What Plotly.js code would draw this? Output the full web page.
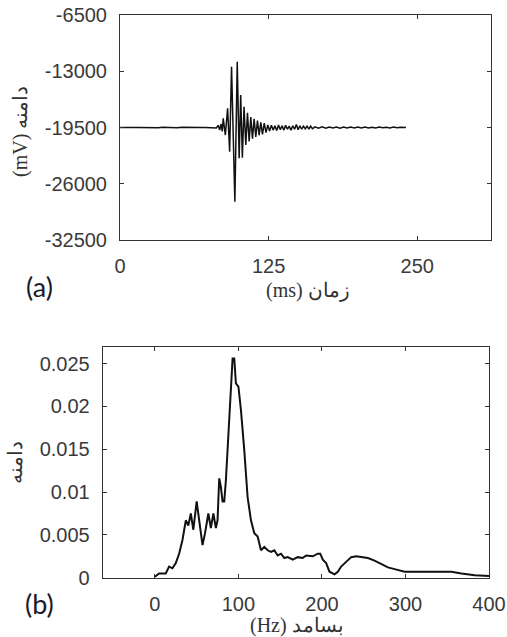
<!DOCTYPE html>
<html>
<head>
<meta charset="utf-8">
<script src="https://cdn.plot.ly/plotly-3.0.1.min.js"></script>
<style>
html,body{margin:0;padding:0;background:#fff;}
#chart{width:507px;height:637px;}
</style>
</head>
<body>
<div id="chart"></div>
<script>
// ---- Panel (a): time signal ----
const timeMs = [0,4,8,12,16,20,24,28,32,36,40,44,48,52,56,60,64,68,72,76,79,81,82.6,83.8,85,86,
  86.8,88.6,90.5,92.2,93.8,96.6,98.6,100.2,101.5,102.9,104.3,105.8,107.2,108.6,110,111.4,112.8,114.2,
  115.6,117,118.4,119.8,121.3,122.8,124.3,125.8,127.3,128.8,130.3,131.8,133.3,134.8,136.3,137.8,139.3,
  140.8,142.3,143.8,145.3,146.8,148.3,149.8,151.3,152.8,154.3,155.8,157.3,158.8,160.3,161.8,
  164,167,170,173,176,179,182,185,188,191,194,197,200,203,206,209,212,215,218,221,224,227,230,233,236,239,240.5];
const amplitudeMv = [-19500,-19530,-19480,-19510,-19490,-19520,-19480,-19500,-19530,-19470,-19510,-19490,-19520,-19480,-19500,-19530,-19470,-19510,-19490,-19520,-19470,-19560,-19250,-19800,-19100,-19950,
  -18440,-20370,-17290,-22300,-12470,-28070,-11900,-23060,-15750,-23000,-17100,-21520,-17800,-21100,-18300,-20800,-18500,-20600,
  -18700,-20400,-18900,-20300,-19000,-20100,-19200,-19900,-19250,-19800,-19300,-19850,-19200,-19750,-19300,-19800,-19250,
  -19700,-19350,-19800,-19300,-19700,-19150,-19750,-19300,-19700,-19350,-19650,-19300,-19700,-19350,-19650,
  -19420,-19580,-19430,-19570,-19440,-19560,-19450,-19570,-19440,-19560,-19450,-19550,-19450,-19560,-19440,-19550,-19460,-19550,-19450,-19540,-19460,-19550,-19450,-19540,-19460,-19530,-19500];
const timeTicks = [0,125,250];
const ampTicks = [-32500,-26000,-19500,-13000,-6500];
const ampTickText = ['-32500','-26000','-19500','-13000','-6500'];

// ---- Panel (b): spectrum ----
const freqHz = [0,5,13,17,21,25,29,31,33,37,40,43,46,50,54,57,60,64,67,70,73,75,77,79,81,83,85,88,91,93,95,97,100,103,107,111,115,119,123,127,131,135,139,143,147,151,155,159,165,171,177,181,189,195,198,201,205,209,215,219,223,229,235,241,247,255,263,271,279,287,299,315,335,355,367,383,400];
const spectrum = [0.0001,0.0005,0.0005,0.0013,0.0011,0.0017,0.0028,0.0036,0.0044,0.0067,0.0061,0.0075,0.0056,0.0089,0.0063,0.0038,0.0052,0.0075,0.0058,0.0075,0.0058,0.0067,0.0116,0.0106,0.0089,0.0089,0.0114,0.0164,0.0223,0.0256,0.0256,0.0227,0.0223,0.0196,0.0149,0.0094,0.0067,0.0052,0.0048,0.0032,0.0036,0.0032,0.0030,0.0032,0.0026,0.0028,0.0023,0.0024,0.0021,0.0024,0.0023,0.0026,0.0025,0.0028,0.0028,0.0021,0.0017,0.0007,0.0004,0.0007,0.0013,0.0019,0.0024,0.0025,0.0024,0.0023,0.0020,0.0016,0.0012,0.0010,0.0007,0.0007,0.0007,0.0007,0.0005,0.0003,0.0002];
const freqTicks = [0,100,200,300,400];
const specTicks = [0,0.005,0.01,0.015,0.02,0.025];
const specTickText = ['0','0.005','0.01','0.015','0.02','0.025'];

const tickFont = {family:'Liberation Sans, Arial, sans-serif', size:20, color:'#3a3a3a'};
const titleFont = {family:'Liberation Serif, DejaVu Serif, serif', size:20, color:'#333'};

function axisBase(){
  return {showline:true, linecolor:'#333', linewidth:1, mirror:'allticks', ticks:'inside', ticklen:4,
    tickcolor:'#333', showgrid:false, zeroline:false, tickfont:tickFont, ticklabelstandoff:8, fixedrange:true};
}

const W=507, H=637;
const layout = {
  width:W, height:H, margin:{l:0,r:0,t:0,b:0}, paper_bgcolor:'#fff', plot_bgcolor:'#fff', showlegend:false,
  xaxis: Object.assign(axisBase(), {domain:[120/W, 491/W], range:[0,312], tickmode:'array', tickvals:timeTicks, anchor:'y'}),
  yaxis: Object.assign(axisBase(), {domain:[1-240/H, 1-15/H], range:[-32500,-6500], tickmode:'array', tickvals:ampTicks, ticktext:ampTickText, anchor:'x'}),
  xaxis2: Object.assign(axisBase(), {domain:[102.7/W, 489/W], range:[-62.5,400], tickmode:'array', tickvals:freqTicks, anchor:'y2'}),
  yaxis2: Object.assign(axisBase(), {domain:[1-577.7/H, 1-347.3/H], range:[0,0.0269], tickmode:'array', tickvals:specTicks, ticktext:specTickText, anchor:'x2'}),
  annotations:[
    {text:'(a)', xref:'paper', yref:'paper', x:39/W, y:1-287/H, showarrow:false, xanchor:'center', yanchor:'middle',
     font:{family:'Lato, Open Sans, sans-serif', size:27, color:'#1a1a2a'}},
    {text:'(b)', xref:'paper', yref:'paper', x:39/W, y:1-603/H, showarrow:false, xanchor:'center', yanchor:'middle',
     font:{family:'Lato, Open Sans, sans-serif', size:27, color:'#1a1a2a'}},
    {text:'(ms) زمان', xref:'paper', yref:'paper', x:308/W, y:1-290/H, showarrow:false, xanchor:'center', yanchor:'middle', font:titleFont},
    {text:'(Hz) بسامد', xref:'paper', yref:'paper', x:297/W, y:1-625/H, showarrow:false, xanchor:'center', yanchor:'middle', font:titleFont},
    {text:'(mV) دامنه', xref:'paper', yref:'paper', x:20/W, y:1-132/H, showarrow:false, textangle:-90, xanchor:'center', yanchor:'middle', font:titleFont},
    {text:'دامنه', xref:'paper', yref:'paper', x:15/W, y:1-463/H, showarrow:false, textangle:-90, xanchor:'center', yanchor:'middle', font:titleFont}
  ]
};

const traces = [
  {x:timeMs, y:amplitudeMv, type:'scatter', mode:'lines', line:{color:'#111', width:1.5}, xaxis:'x', yaxis:'y', hoverinfo:'skip'},
  {x:freqHz, y:spectrum, type:'scatter', mode:'lines', line:{color:'#111', width:2}, xaxis:'x2', yaxis:'y2', hoverinfo:'skip'}
];

Plotly.newPlot('chart', traces, layout, {staticPlot:true, displayModeBar:false});
</script>
</body>
</html>
